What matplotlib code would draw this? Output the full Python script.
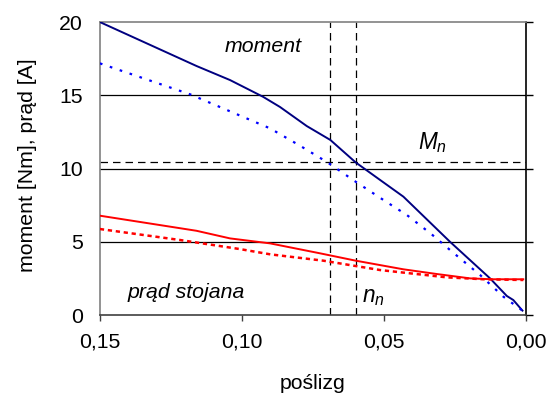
import matplotlib
matplotlib.use("Agg")
import matplotlib.pyplot as plt

plt.rcParams['font.family'] = ['Liberation Sans', 'DejaVu Sans']
plt.rcParams['mathtext.fontset'] = 'custom'
plt.rcParams['mathtext.it'] = 'Liberation Sans:italic'
plt.rcParams['mathtext.rm'] = 'Liberation Sans'

# moment (solid, navy)
m_s = [0.15, 0.116, 0.1042, 0.0926, 0.0866, 0.0772, 0.0689, 0.060, 0.0514, 0.0432, 0.0268, 0.0127, 0.0068, 0.0045, 0.0013]
m_v = [20.0, 17.0, 16.04, 14.9, 14.2, 12.9, 11.95, 10.42, 9.22, 8.08, 5.0, 2.5, 1.3, 1.02, 0.3]
# moment (dotted, blue)
md_s = [0.15, 0.1183, 0.0901, 0.0796, 0.0699, 0.060, 0.0502, 0.042, 0.0332, 0.0268, 0.0162, 0.008, 0.0013]
md_v = [17.18, 15.07, 12.74, 11.56, 10.42, 9.1, 7.85, 6.83, 5.5, 4.44, 2.73, 1.25, 0.3]
# prad stojana (solid, red)
i_s = [0.15, 0.116, 0.1042, 0.0901, 0.0725, 0.060, 0.0432, 0.0315, 0.0197, 0.012, 0.001]
i_v = [6.78, 5.75, 5.23, 4.89, 4.21, 3.71, 3.12, 2.80, 2.5, 2.44, 2.44]
# prad stojana (dotted, red)
id_s = [0.15, 0.1218, 0.1007, 0.090, 0.0714, 0.0514, 0.0279, 0.015, 0.001]
id_v = [5.87, 5.12, 4.5, 4.14, 3.71, 3.07, 2.57, 2.44, 2.39]

Mn = 10.42
sn = [0.0689, 0.060]

xticks = [0.15, 0.10, 0.05, 0.00]
xticklabels = ['0,15', '0,10', '0,05', '0,00']
yticks = [0, 5, 10, 15, 20]

FS = 15.3

fig = plt.figure(figsize=(5.55, 3.94), dpi=100)
ax = fig.add_axes([0.18, 0.2005, 0.768, 0.7435])

for y in [5, 10, 15]:
    ax.axhline(y, color='black', lw=0.9, zorder=1)

ax.axhline(Mn, color='black', lw=0.9, ls=(0, (6, 4)), zorder=2)
for s in sn:
    ax.axvline(s, color='black', lw=0.9, ls=(0, (6, 4)), zorder=2)

ax.plot(m_s, m_v, color='#000080', lw=1.4, zorder=3)
ax.plot(md_s, md_v, color='#0000ff', lw=1.6, ls=(0, (1.2, 3.5)), zorder=3)
ax.plot(i_s, i_v, color='#ff0000', lw=1.4, zorder=3)
ax.plot(id_s, id_v, color='#ff0000', lw=1.8, ls=(0, (1.7, 1.5)), zorder=3)

ax.set_xlim(0.15, 0.0)
ax.set_ylim(0, 20)
ax.set_xticks(xticks)
ax.set_xticklabels(xticklabels, fontsize=FS)
ax.set_yticks(yticks)
ax.set_yticklabels([str(v) for v in yticks], fontsize=FS)
ax.tick_params(axis='x', direction='out', length=4.5, width=1, color='#404040', pad=8)
ax.tick_params(axis='y', left=False, right=True, direction='out', length=5, width=1, color='black', pad=7.3)

ax.spines['left'].set_color('#808080')
ax.spines['top'].set_color('#808080')
ax.spines['bottom'].set_color('#404040')
ax.spines['right'].set_color('black')
for sp in ax.spines.values():
    sp.set_linewidth(1.2)

fig.text(313 / 555, 1 - 389 / 394, 'poślizg', fontsize=FS, ha='center', va='baseline')
fig.text(27.5 / 555, 1 - 165 / 394, 'moment [Nm], prąd [A]', fontsize=FS, rotation=90,
         ha='center', va='center')

ax.text(0.0926, 18.36, 'moment', fontsize=FS, style='italic', ha='center', va='center')
ax.text(0.0331, 11.74, r'$M_n$', fontsize=FS + 1, ha='center', va='center')
ax.text(0.0539, 1.23, r'$n_n$', fontsize=FS + 1, ha='center', va='center')
ax.text(0.1197, 1.57, 'prąd stojana', fontsize=FS, style='italic', ha='center', va='center')

fig.savefig('out.png', dpi=100)
